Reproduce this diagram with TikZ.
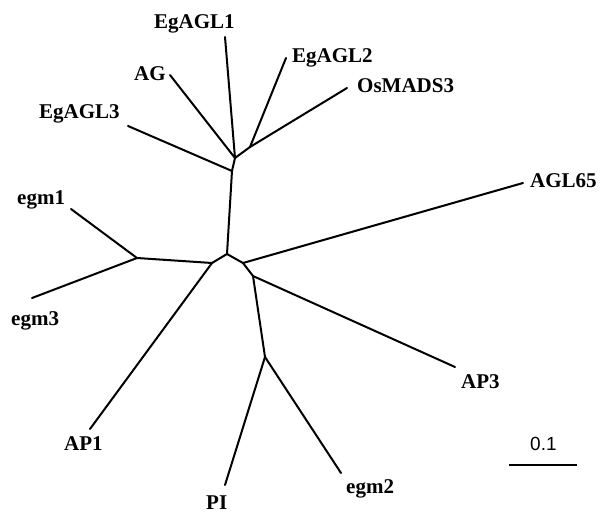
\documentclass[tikz,border=0pt]{standalone}
\usepackage{fontspec}
\setmainfont{Liberation Serif}
\newfontfamily\barfont{Liberation Sans}
\begin{document}
\begin{tikzpicture}[x=1pt,y=-1pt,
  branch/.style={line width=2pt,line cap=round,line join=round},
  taxon/.style={anchor=base west,inner sep=0pt,font=\fontsize{21}{25}\selectfont\bfseries},
  barlabel/.style={anchor=base west,inner sep=0pt,font=\fontsize{19}{22}\selectfont\barfont}]
\useasboundingbox (0,0) rectangle (603,514);
% internal nodes
\coordinate (c0) at (227,254);
\coordinate (cL) at (212,263);
\coordinate (cR) at (243,263);
\coordinate (cE) at (137,258);
\coordinate (cA3) at (253,276);
\coordinate (cP) at (265,357);
\coordinate (cG3) at (232,171);
\coordinate (cG) at (235,158);
\coordinate (cG2) at (250,147);
% leaf tips
\coordinate (tEgAGL3) at (128,126);
\coordinate (tAG) at (170,75);
\coordinate (tEgAGL1) at (225,37);
\coordinate (tEgAGL2) at (286,58);
\coordinate (tOsMADS3) at (347,88);
\coordinate (tAP1) at (90,429);
\coordinate (tegm1) at (71,209);
\coordinate (tegm3) at (32,298);
\coordinate (tAGL65) at (523,183);
\coordinate (tAP3) at (455,367);
\coordinate (tPI) at (225,485);
\coordinate (tegm2) at (341,473);
% branches
\draw[branch] (c0) -- (cL);
\draw[branch] (c0) -- (cR);
\draw[branch] (c0) -- (cG3);
\draw[branch] (cG3) -- (tEgAGL3);
\draw[branch] (cG3) -- (cG);
\draw[branch] (cG) -- (tAG);
\draw[branch] (cG) -- (tEgAGL1);
\draw[branch] (cG) -- (cG2);
\draw[branch] (cG2) -- (tEgAGL2);
\draw[branch] (cG2) -- (tOsMADS3);
\draw[branch] (cL) -- (cE);
\draw[branch] (cL) -- (tAP1);
\draw[branch] (cE) -- (tegm1);
\draw[branch] (cE) -- (tegm3);
\draw[branch] (cR) -- (tAGL65);
\draw[branch] (cR) -- (cA3);
\draw[branch] (cA3) -- (tAP3);
\draw[branch] (cA3) -- (cP);
\draw[branch] (cP) -- (tPI);
\draw[branch] (cP) -- (tegm2);
% taxon labels
\node[taxon] (lEgAGL1) at (154,28) {EgAGL1};
\node[taxon] (lAG) at (134,80) {AG};
\node[taxon] (lEgAGL2) at (292,62) {EgAGL2};
\node[taxon] (lOsMADS3) at (357,92) {OsMADS3};
\node[taxon] (lEgAGL3) at (39,118) {EgAGL3};
\node[taxon] (legm1) at (17,204) {egm1};
\node[taxon] (legm3) at (11,325) {egm3};
\node[taxon] (lAGL65) at (530,187) {AGL65};
\node[taxon] (lAP3) at (461,388) {AP3};
\node[taxon] (lAP1) at (64,450) {AP1};
\node[taxon] (lPI) at (206,509) {PI};
\node[taxon] (legm2) at (346,493) {egm2};
% scale bar
\coordinate (sb1) at (509,465);
\coordinate (sb2) at (577,465);
\draw[line width=1.8pt] (sb1) -- (sb2);
\node[barlabel] (lbar) at (530,450) {0.1};
\end{tikzpicture}
\end{document}
